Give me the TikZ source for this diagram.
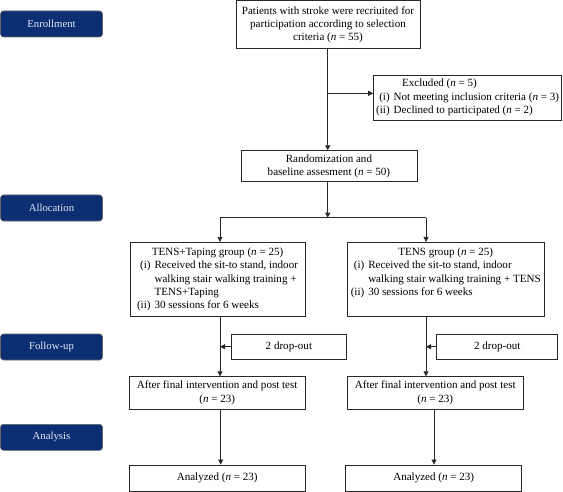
\documentclass[tikz,border=0pt]{standalone}
\usepackage{fontspec}
\setmainfont{Liberation Serif}
\usetikzlibrary{arrows.meta}
\definecolor{navy}{RGB}{12,46,114}
\definecolor{labtext}{RGB}{225,232,245}
\definecolor{linec}{RGB}{40,40,40}
\tikzset{
  box/.style={draw=linec, line width=0.8bp, fill=white, inner sep=1bp,
    font=\fontsize{11.1}{13.3}\selectfont, align=center},
  lab/.style={fill=navy, draw=black!60, line width=0.6bp, rounded corners=3bp,
    text=labtext, minimum width=102bp, minimum height=26bp, inner sep=0pt,
    font=\fontsize{10.8}{12}\selectfont},
  arr/.style={draw=linec, line width=0.8bp, -{Triangle[length=5bp,width=5bp]}},
  ln/.style={draw=linec, line width=0.8bp}
}
\begin{document}
\begin{tikzpicture}[x=1bp,y=-1bp]
\useasboundingbox (0,0) rectangle (563,492);
% phase labels
\node[lab] (enr) at (51.5,24) {Enrollment};
\node[lab] (alo) at (51.5,208) {Allocation};
\node[lab] (fol) at (51.5,347) {Follow-up};
\node[lab] (ana) at (51.5,437.3) {Analysis};
% boxes
\node[box, minimum width=184bp, minimum height=48bp] (top) at (328,24.6)
  {Patients with stroke were recriuited for\\participation according to selection\\criteria (\textit{n} = 55)};
\node[box, minimum width=188bp, minimum height=45bp] (excl) at (467.6,97.5)
  {\begin{tabular}{@{}r@{\hspace{4bp}}l@{}}
   \multicolumn{2}{@{}l@{}}{\hspace{26bp}Excluded (\textit{n} = 5)}\\
   (i) & Not meeting inclusion criteria (\textit{n} = 3)\\
   (ii) & Declined to participated (\textit{n} = 2)
   \end{tabular}};
\node[box, minimum width=176bp, minimum height=31bp] (rand) at (328.9,166.2)
  {Randomization and\\baseline assesment (\textit{n} = 50)};
\node[box, minimum width=175bp, minimum height=74.4bp] (gl) at (217.5,279.5)
  {\begin{tabular}{@{}r@{\hspace{4bp}}l@{}}
   \multicolumn{2}{@{}c@{}}{TENS+Taping group (\textit{n} = 25)}\\
   (i) & Received the sit-to stand, indoor\\
       & walking stair walking training +\\
       & TENS+Taping\\
   (ii) & 30 sessions for 6 weeks
   \end{tabular}};
\node[box, minimum width=196.7bp, minimum height=74.4bp] (gr) at (445.7,279.5)
  {\begin{tabular}{@{}r@{\hspace{4bp}}l@{}}
   \multicolumn{2}{@{}c@{}}{TENS group (\textit{n} = 25)}\\
   (i) & Received the sit-to stand, indoor\\
       & walking stair walking training + TENS\\
   (ii) & 30 sessions for 6 weeks\\
       & \\
   \end{tabular}};
\node[box, minimum width=115.7bp, minimum height=24.7bp] (dl) at (288.9,346.7) {2 drop-out};
\node[box, minimum width=121bp, minimum height=24.7bp] (dr) at (497.2,346.7) {2 drop-out};
\node[box, minimum width=175.7bp, minimum height=32.3bp] (al) at (217.2,392.8)
  {After final intervention and post test\\(\textit{n} = 23)};
\node[box, minimum width=176bp, minimum height=32.3bp] (ar) at (435.3,392.8)
  {After final intervention and post test\\(\textit{n} = 23)};
\node[box, minimum width=175.7bp, minimum height=26.7bp] (nl) at (217.2,478.3)
  {Analyzed (\textit{n} = 23)};
\node[box, minimum width=176bp, minimum height=26.7bp] (nr) at (433.7,478.3)
  {Analyzed (\textit{n} = 23)};
% coordinates
\coordinate (c1) at (327.7,93.3);
\coordinate (c2) at (327.7,217.7);
\coordinate (cl) at (220,217.7);
\coordinate (cr) at (426,217.7);
% connectors
\draw[arr] (top.south -| c1) -- (rand.north -| c1);
\draw[arr] (c1) -- (c1 -| excl.west);
\draw[arr] (rand.south -| c2) -- (c2);
\draw[ln] (cl) -- (cr);
\draw[arr] (cl) -- (gl.north -| cl);
\draw[arr] (cr) -- (gr.north -| cr);
\draw[arr] (gl.south -| cl) -- (al.north -| cl);
\draw[arr] (gr.south -| cr) -- (ar.north -| cr);
\draw[arr] (dl.west) -- (dl.west -| cl);
\draw[arr] (dr.west) -- (dr.west -| cr);
\draw[arr] ([xshift=3.5bp]al.south) -- ([xshift=3.5bp]al.south |- nl.north);
\draw[arr] ([xshift=-1.3bp]ar.south) -- ([xshift=-1.3bp]ar.south |- nr.north);
\end{tikzpicture}
\end{document}
